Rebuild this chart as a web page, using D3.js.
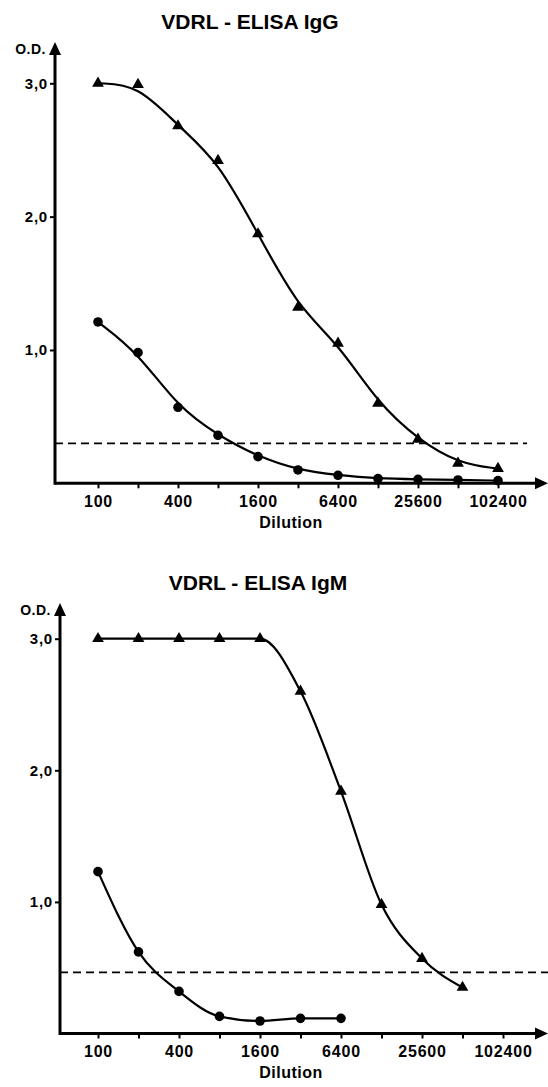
<!DOCTYPE html>
<html lang="en">
<head>
    <meta charset="UTF-8">
    <title>VDRL - ELISA</title>
    <style>
        body {
            margin: 0;
            background: #fff;
            font-family: "Liberation Sans", Arial, sans-serif;
        }
        svg text {
            font-weight: bold;
            fill: #000;
        }
        .tick line {
            stroke: #000;
            stroke-width: 2;
        }
    </style>
</head>
<body>
    <svg width="548" height="1087"></svg>
    <script src="https://d3js.org/d3.v7.min.js"></script>
    <script>
        // dilution steps (x) and which of them get a label
        const dilutions = [100, 200, 400, 800, 1600, 3200, 6400, 12800, 25600, 51200, 102400];
        const labelledDilutions = [100, 400, 1600, 6400, 25600, 102400];
        const odTicks = [1, 2, 3];

        // IgG panel, O.D. values
        const iggTriangles = [3.0, 2.99, 2.68, 2.42, 1.87, 1.32, 1.05, 0.6, 0.33, 0.15, 0.11];
        const iggCircles = [1.21, 0.98, 0.57, 0.36, 0.2, 0.1, 0.06, 0.035, 0.03, 0.025, 0.02];
        const iggCutoff = 0.30;

        // IgM panel
        const igmTriangles = [3.0, 3.0, 3.0, 3.0, 3.0, 2.6, 1.84, 0.98, 0.57, 0.35];
        const igmCircles = [1.23, 0.62, 0.32, 0.13, 0.095, 0.115, 0.115];
        const igmCutoff = 0.465;

        const svg = d3.select("svg");
        const width = +svg.attr("width");

        const panels = [
            {title: "VDRL - ELISA IgG", titleX: 250, titleY: 29, axisX: 55, bottom: 483.3, top: 83.3,
             xLeft: 98, xRight: 498, tipY: 42, labelY: 506, dilY: 528, dashEnd: 527,
             tri: iggTriangles, circ: iggCircles, cutoff: iggCutoff,
             triCurve: d3.curveBasis, circCurve: d3.curveBasis},
            {title: "VDRL - ELISA IgM", titleX: 258, titleY: 590, axisX: 60, bottom: 1033.5, top: 638.7,
             xLeft: 98, xRight: 503, tipY: 603, labelY: 1056, dilY: 1078, dashEnd: 548,
             tri: igmTriangles, circ: igmCircles, cutoff: igmCutoff,
             triCurve: d3.curveMonotoneX, circCurve: d3.curveMonotoneX}
        ];

        panels.forEach(p => {
            const x = d3.scaleLog().base(2).domain([100, 102400]).range([p.xLeft, p.xRight]);
            const y = d3.scaleLinear().domain([0, 3]).range([p.bottom, p.top]);
            const g = svg.append("g");

            g.append("text")
                .attr("x", p.titleX)
                .attr("y", p.titleY)
                .attr("text-anchor", "middle")
                .style("font-size", "21px")
                .text(p.title);

            // x axis ticks + labels
            g.append("g")
                .attr("transform", `translate(0,${p.bottom})`)
                .call(d3.axisBottom(x)
                    .tickValues(dilutions)
                    .tickSize(5)
                    .tickPadding(7)
                    .tickFormat(d => labelledDilutions.includes(d) ? d : ""))
                .call(a => a.select(".domain").remove())
                .selectAll("text")
                .style("font-size", "16px")
                .style("letter-spacing", "0.8px")
                .attr("dy", "0.71em");

            // y axis ticks + labels
            g.append("g")
                .attr("transform", `translate(${p.axisX},0)`)
                .call(d3.axisLeft(y)
                    .tickValues(odTicks)
                    .tickSize(5)
                    .tickPadding(2)
                    .tickFormat(d => d3.format(".1f")(d).replace(".", ",")))
                .call(a => a.select(".domain").remove())
                .selectAll("text")
                .style("font-size", "15px")
                .style("letter-spacing", "0.8px");

            // axis lines with arrow heads
            g.append("line")
                .attr("x1", p.axisX).attr("x2", width - 10)
                .attr("y1", p.bottom).attr("y2", p.bottom)
                .attr("stroke", "#000").attr("stroke-width", 3);
            g.append("path")
                .attr("d", `M${width},${p.bottom} L${width - 13},${p.bottom - 6} L${width - 13},${p.bottom + 6} Z`)
                .attr("fill", "#000");
            g.append("line")
                .attr("x1", p.axisX).attr("x2", p.axisX)
                .attr("y1", p.bottom + 1.5).attr("y2", p.tipY + 10)
                .attr("stroke", "#000").attr("stroke-width", 3);
            g.append("path")
                .attr("d", `M${p.axisX},${p.tipY} L${p.axisX - 6},${p.tipY + 13} L${p.axisX + 6},${p.tipY + 13} Z`)
                .attr("fill", "#000");

            g.append("text")
                .attr("x", p.axisX - 9)
                .attr("y", p.tipY + 12)
                .attr("text-anchor", "end")
                .style("font-size", "14px")
                .style("letter-spacing", "0.5px")
                .text("O.D.");

            g.append("text")
                .attr("x", 291)
                .attr("y", p.dilY)
                .attr("text-anchor", "middle")
                .style("font-size", "16px")
                .style("letter-spacing", "0.5px")
                .text("Dilution");

            // cut-off line
            g.append("line")
                .attr("x1", p.axisX).attr("x2", p.dashEnd)
                .attr("y1", y(p.cutoff)).attr("y2", y(p.cutoff))
                .attr("stroke", "#000").attr("stroke-width", 1.8)
                .attr("stroke-dasharray", "8,5");

            const series = [[p.tri, p.triCurve], [p.circ, p.circCurve]];
            series.forEach(([vals, curve]) => {
                const line = d3.line()
                    .x((d, i) => x(dilutions[i]))
                    .y(d => y(d))
                    .curve(curve);
                g.append("path")
                    .attr("d", line(vals))
                    .attr("fill", "none")
                    .attr("stroke", "#000")
                    .attr("stroke-width", 2.2);
            });

            g.selectAll(null)
                .data(p.tri)
                .join("path")
                .attr("transform", (d, i) => `translate(${x(dilutions[i])},${y(d)})`)
                .attr("d", d3.symbol(d3.symbolTriangle, 60))
                .attr("fill", "#000");

            g.selectAll(null)
                .data(p.circ)
                .join("circle")
                .attr("cx", (d, i) => x(dilutions[i]))
                .attr("cy", d => y(d))
                .attr("r", 4.8)
                .attr("fill", "#000");
        });
    </script>
</body>
</html>
